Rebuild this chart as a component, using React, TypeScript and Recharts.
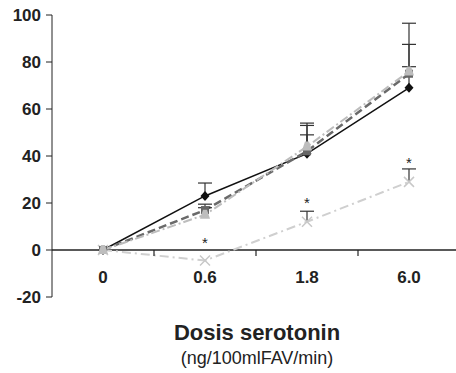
import { LineChart, Line, XAxis, YAxis, ReferenceLine, ReferenceDot } from "recharts";

const doses = ["0", "0.6", "1.8", "6.0"];
const seriesA = [0, 23, 41, 69]; // black, diamonds
const seriesB = [0, 17, 42, 75]; // dark grey, squares
const seriesC = [0, 15, 44, 76]; // light grey, triangles
const seriesD = [0, -4.5, 12, 29]; // pale grey, crosses
const errA = [null, 28.5, 49, 87.5];
const errB = [null, 19.5, 54, 96.5];
const errC = [null, 18, 53, 78];
const errD = [null, null, 16.5, 34.5];
const stars = [null, 4, 21, 38];
const yTicks = [-20, 0, 20, 40, 60, 80, 100];
const boundaries = [1, 2, 3];

const data = doses.map((d, i) => ({
  x: i + 0.5,
  dose: d,
  a: seriesA[i],
  b: seriesB[i],
  c: seriesC[i],
  d: seriesD[i],
}));

const font = "'Liberation Sans', Arial, sans-serif";

const Diamond = ({ cx, cy }: any) => (
  <path d={`M${cx},${cy - 5}L${cx + 4.5},${cy}L${cx},${cy + 5}L${cx - 4.5},${cy}Z`} fill="#111" />
);
const Square = ({ cx, cy }: any) => <rect x={cx - 4} y={cy - 4} width={8} height={8} fill="#666" />;
const Triangle = ({ cx, cy }: any) => (
  <path d={`M${cx - 2},${cy - 5}L${cx + 2},${cy - 5}L${cx + 5},${cy + 4}L${cx - 5},${cy + 4}Z`} fill="#bdbdbd" />
);
const Cross = ({ cx, cy }: any) => (
  <path d={`M${cx - 5},${cy - 5}L${cx + 5},${cy + 5}M${cx + 5},${cy - 5}L${cx - 5},${cy + 5}`} stroke="#c8c8c8" strokeWidth={1.5} />
);

const Cap = ({ cx, cy }: any) => <line x1={cx - 7} x2={cx + 7} y1={cy} y2={cy} stroke="#333" strokeWidth={1.2} />;
const Star = ({ cx, cy }: any) => (
  <text x={cx} y={cy} dy="0.5em" textAnchor="middle" fontFamily={font} fontSize={15} fill="#222">*</text>
);
const TickMark = ({ cx, cy }: any) => <line x1={cx} x2={cx} y1={cy} y2={cy + 6} stroke="#222" strokeWidth={1.2} />;

function errorBars(values: number[], errs: (number | null)[], key: string) {
  const out: any[] = [];
  errs.forEach((e, i) => {
    if (e == null) return;
    out.push(
      <ReferenceLine key={`${key}s${i}`} segment={[{ x: i + 0.5, y: values[i] }, { x: i + 0.5, y: e }]} stroke="#333" strokeWidth={1.2} />
    );
    out.push(<ReferenceDot key={`${key}c${i}`} x={i + 0.5} y={e} shape={Cap} />);
  });
  return out;
}

export default function App() {
  return (
    <div style={{ position: "absolute", left: 0, top: 0, width: 456, height: 373, overflow: "hidden", background: "#fff" }}>
      <LineChart width={460} height={373} data={data} margin={{ top: 15, right: 0, bottom: 76, left: 0 }}>
        <XAxis type="number" dataKey="x" domain={[0, 4]} hide />
        <YAxis
          domain={[-20, 100]}
          ticks={yTicks}
          width={52}
          stroke="#222"
          tickSize={6}
          tickMargin={5}
          tick={{ fill: "#222", fontSize: 17, fontWeight: "bold", fontFamily: font }}
        />
        <ReferenceLine y={0} stroke="#222" strokeWidth={1.5} />
        {boundaries.map((b) => (
          <ReferenceDot key={`t${b}`} x={b} y={0} shape={TickMark} />
        ))}
        {doses.map((d, i) => (
          <ReferenceDot
            key={`l${d}`}
            x={i + 0.5}
            y={0}
            shape={({ cx, cy }: any) => (
              <text x={cx} y={cy + 27} dy="0.35em" textAnchor="middle" fontFamily={font} fontWeight="bold" fontSize={17} fill="#222">
                {d}
              </text>
            )}
          />
        ))}
        {errorBars(seriesD, errD, "d")}
        {errorBars(seriesA, errA, "a")}
        {errorBars(seriesB, errB, "b")}
        {errorBars(seriesC, errC, "c")}
        <Line dataKey="d" stroke="#cfcfcf" strokeWidth={2} strokeDasharray="9 4 2 4" dot={Cross} isAnimationActive={false} />
        <Line dataKey="a" stroke="#111" strokeWidth={1.5} dot={Diamond} isAnimationActive={false} />
        <Line dataKey="b" stroke="#6a6a6a" strokeWidth={2.5} strokeDasharray="8 4" dot={Square} isAnimationActive={false} />
        <Line dataKey="c" stroke="#bdbdbd" strokeWidth={2} strokeDasharray="9 3 2 3" dot={Triangle} isAnimationActive={false} />
        {stars.map((s, i) =>
          s == null ? null : <ReferenceDot key={`s${i}`} x={i + 0.5} y={s} shape={Star} />
        )}
      </LineChart>
      <div style={{ position: "absolute", left: 157, top: 322, width: 200, textAlign: "center", fontFamily: font, fontWeight: "bold", fontSize: 22, lineHeight: "22px", color: "#222" }}>
        Dosis serotonin
      </div>
      <div style={{ position: "absolute", left: 129, top: 349, width: 256, textAlign: "center", fontFamily: font, fontSize: 18, lineHeight: "18px", color: "#222" }}>
        (ng/100mlFAV/min)
      </div>
    </div>
  );
}
